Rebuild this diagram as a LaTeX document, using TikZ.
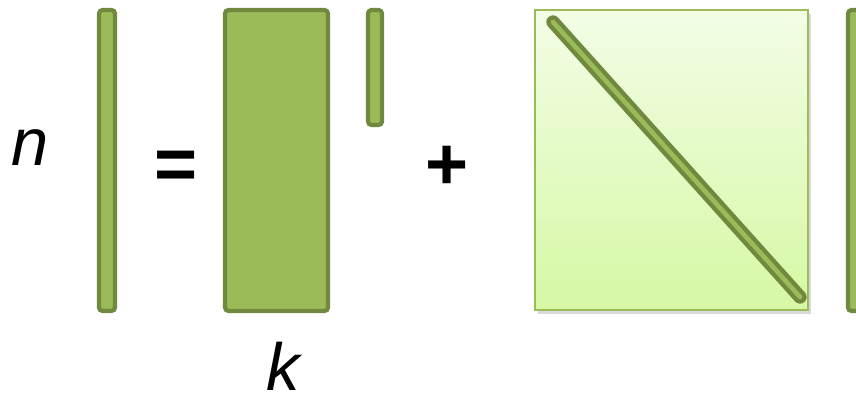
\documentclass[tikz,border=0pt]{standalone}
\usepackage{fontspec}
\setmainfont{Liberation Sans}
\usetikzlibrary{positioning}
\usetikzlibrary{shadows}

\definecolor{barfill}{HTML}{9BBB59}
\definecolor{bardraw}{HTML}{71893F}
\definecolor{sqtop}{HTML}{F2FDE6}
\definecolor{sqbottom}{HTML}{D6F8A4}
\definecolor{sqdraw}{HTML}{9BBB59}

\begin{document}
\begin{tikzpicture}[
  x=0.02cm, y=-0.02cm,
  vec/.style={
    rectangle,
    rounded corners=2pt,
    draw=bardraw,
    fill=barfill,
    line width=2.4pt,
    inner sep=0pt,
    minimum width=#1
  },
  vec/.default=0.32cm,
  mat/.style={
    rectangle,
    draw=sqdraw,
    line width=1.1pt,
    top color=sqtop,
    bottom color=sqbottom,
    inner sep=0pt,
    drop shadow={shadow xshift=1.5pt, shadow yshift=-2.5pt, opacity=0.3}
  },
  sym/.style={inner sep=0pt, font=\fontsize{38}{40}\selectfont\itshape},
  op/.style={font=\fontsize{42}{44}\selectfont\bfseries}
]
\useasboundingbox (0,0) rectangle (856,394);

% ===================== left side =====================
\node[sym] (n) at (30,147.5) {n};
\node[vec, minimum height=6.02cm] (y) at (107,160.5) {};
\node[op]  (eq) at (176,170) {=};

% ===================== low rank term =====================
\node[vec=2.06cm, minimum height=6.02cm] (W) at (276.5,160.5) {};
\node[vec=0.28cm, minimum height=2.3cm] (z) at (375,67.5) {};
\node[sym] (k) at (283,366) {k};
\node[op]  (plus) at (447,168) {+};

% ===================== diagonal term =====================
\node[mat, minimum width=5.46cm, minimum height=6.0cm] (D) at (671.5,160) {};
\coordinate (d1) at (553,22);
\coordinate (d2) at (800,297);
\draw[line width=7.6pt, bardraw, line cap=round] (d1) -- (d2);
\draw[line width=2.6pt, barfill, line cap=round] (d1) -- (d2);
\node[vec, minimum height=6.02cm] (e) at (856,160.5) {};

\end{tikzpicture}
\end{document}
